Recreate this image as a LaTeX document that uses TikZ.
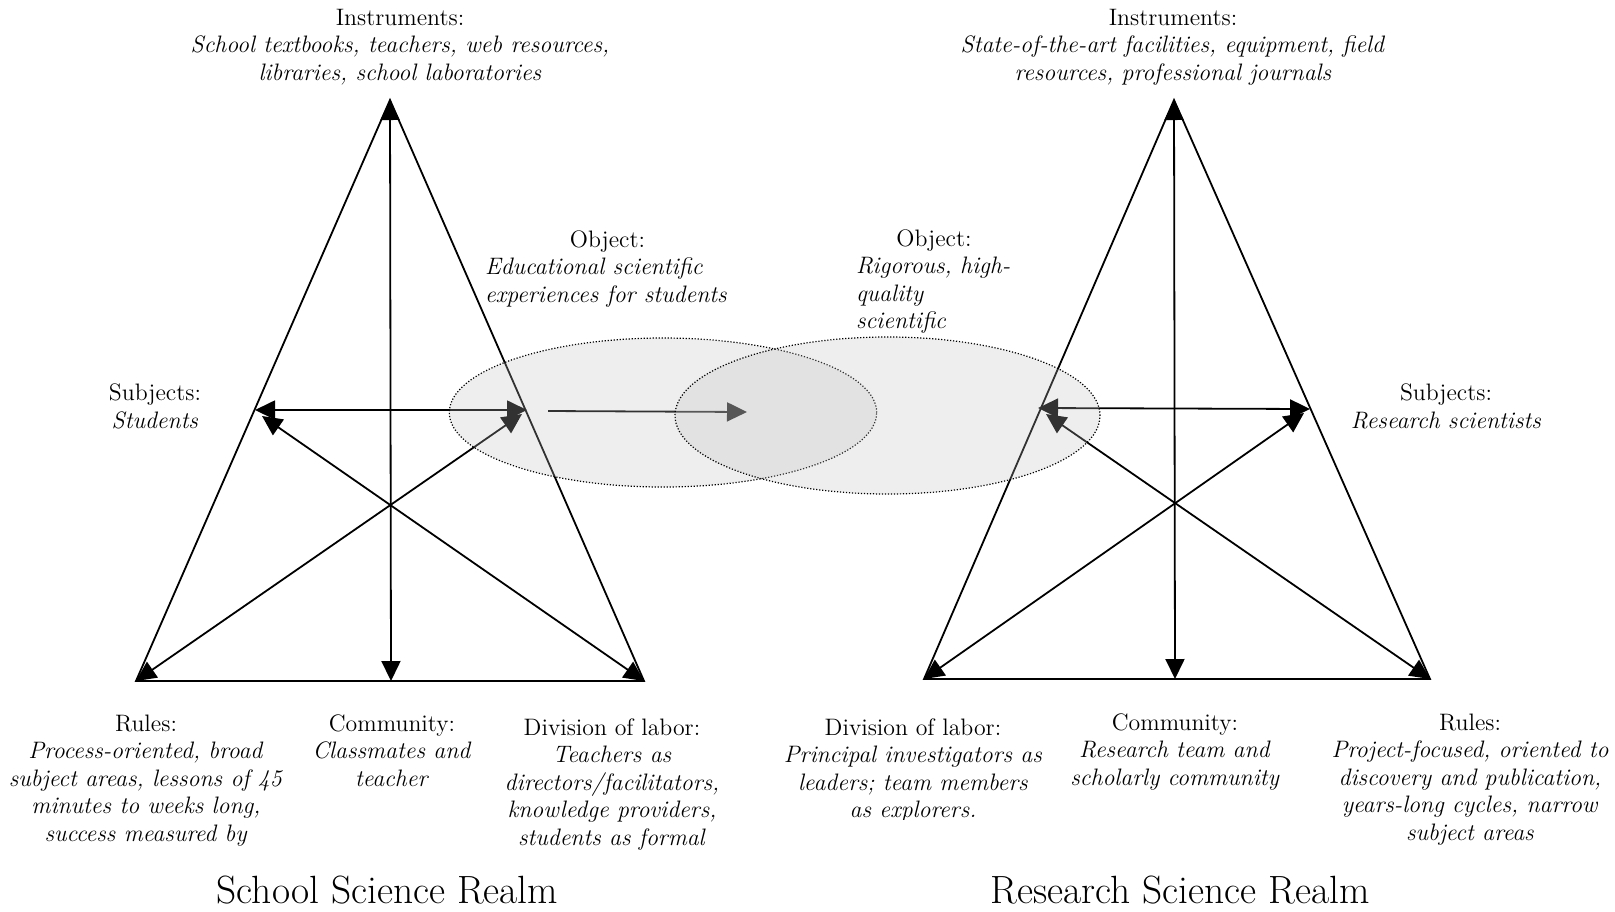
\documentclass[tikz,border=0pt]{standalone}
\usetikzlibrary{arrows.meta,shapes.geometric}
% a block of centred (or left-aligned) lines whose baseline is the first line's
\newcommand{\txtblock}[2][c]{\begin{tabular}[t]{@{}#1@{}}#2\end{tabular}}
\begin{document}
\begin{tikzpicture}[x=0.5pt,y=-0.5pt,
  every node/.style={inner sep=0pt,outer sep=0pt,font=\fontsize{11.9}{13.75}\selectfont},
  lbl/.style={anchor=base},
  lblw/.style={anchor=base west},
  realm/.style={anchor=base,font=\fontsize{19.7}{23}\selectfont},
  edge/.style={line width=0.9pt},
  link/.style={line width=0.9pt,{Triangle[length=10pt,width=9.5pt]}-{Triangle[length=10pt,width=9.5pt]}},
  onelink/.style={line width=0.9pt,-{Triangle[length=10pt,width=9.5pt]}},
  zone/.style={ellipse,draw=black,line width=0.6pt,dash pattern=on 0.6pt off 0.9pt,
    fill=black!24,fill opacity=0.263}
]
\fill[white] (0,0) rectangle (1615,911);
\useasboundingbox (0,0) rectangle (1615,911);

% ---------- School science activity system ----------
\coordinate (sA) at (390,100);
\coordinate (sL) at (136,681);
\coordinate (sR) at (644,681);
\coordinate (sCom) at (391,681);
\coordinate (sSubj) at (255,410);
\coordinate (sObj) at (527,410);
\coordinate (sSubjB) at (262,416);
\coordinate (sObjB) at (522,414);

\draw[edge] (sA) -- (sL) -- (sR) -- cycle;
\draw[link] (sA) -- (sCom);
\draw[link] (sSubj) -- (sObj);
\draw[link] (sL) -- (sObjB);
\draw[link] (sR) -- (sSubjB);

% ---------- Research science activity system ----------
\coordinate (rA) at (1174,100);
\coordinate (rL) at (924,679);
\coordinate (rR) at (1430,679);
\coordinate (rCom) at (1175,679);
\coordinate (rObj) at (1038,408);
\coordinate (rSubj) at (1310,409);
\coordinate (rObjB) at (1046,414);
\coordinate (rSubjB) at (1304,413);

\draw[edge] (rA) -- (rL) -- (rR) -- cycle;
\draw[link] (rA) -- (rCom);
\draw[link] (rObj) -- (rSubj);
\draw[link] (rL) -- (rSubjB);
\draw[link] (rR) -- (rObjB);

% ---------- transfer between the two objects ----------
\coordinate (mStart) at (548,411);
\coordinate (mEnd) at (747,412);
\draw[onelink] (mStart) -- (mEnd);

% object zones (translucent, over the lines)
\node[zone,minimum width=213.7pt,minimum height=74.5pt] (sZone) at (663,412.5) {};
\node[zone,minimum width=212.5pt,minimum height=78.5pt] (rZone) at (887.5,415.5) {};

% ---------- labels: school side ----------
\node[lbl] (sInstr) at (400,25) {\txtblock{Instruments:\\
  \textit{School textbooks, teachers, web resources,}\\
  \textit{libraries, school laboratories}}};
\node[lbl] (sSubjT) at (155,400.5) {\txtblock{Subjects:\\ \textit{Students}}};
\node[lblw] (sObjT) at (485,247) {\txtblock[l]{\multicolumn{1}{@{}c@{}}{\makebox[122.5pt]{Object:}}\\
  \textit{Educational scientific}\\
  \textit{experiences for students}}};
\node[lbl] (sRules) at (146,731) {\txtblock{Rules:\\
  \textit{Process-oriented, broad}\\
  \textit{subject areas, lessons of 45}\\
  \textit{minutes to weeks long,}\\
  \textit{success measured by}}};
\node[lbl] (sComT) at (392,731) {\txtblock{Community:\\
  \textit{Classmates and}\\
  \textit{teacher}}};
\node[lbl] (sDiv) at (612,735) {\txtblock{Division of labor:\\
  \textit{Teachers as}\\
  \textit{directors/facilitators,}\\
  \textit{knowledge providers,}\\
  \textit{students as formal}}};
\node[realm] (sRealm) at (387.5,903) {School Science Realm};

% ---------- labels: research side ----------
\node[lbl] (rInstr) at (1173,25) {\txtblock{Instruments:\\
  \textit{State-of-the-art facilities, equipment, field}\\
  \textit{resources, professional journals}}};
\node[lbl] (rSubjT) at (1446,400.5) {\txtblock{Subjects:\\ \textit{Research scientists}}};
\node[lblw] (rObjT) at (856,246) {\txtblock[l]{\multicolumn{1}{@{}c@{}}{\makebox[78pt]{Object:}}\\
  \textit{Rigorous, high-}\\
  \textit{quality}\\
  \textit{scientific}}};
\begin{scope}
  \clip (760,700) rectangle (1070,819);
  \node[lbl] (rDiv) at (913,735) {\txtblock{Division of labor:\\
    \textit{Principal investigators as}\\
    \textit{leaders; team members}\\
    \textit{as explorers.}}};
\end{scope}
\node[lbl] (rComT) at (1175,730) {\txtblock{Community:\\
  \textit{Research team and}\\
  \textit{scholarly community}}};
\node[lbl] (rRules) at (1470,730) {\txtblock{Rules:\\
  \textit{Project-focused, oriented to}\\
  \textit{discovery and publication,}\\
  \textit{years-long cycles, narrow}\\
  \textit{subject areas}}};
\node[realm] (rRealm) at (1180,903) {Research Science Realm};
\end{tikzpicture}
\end{document}
